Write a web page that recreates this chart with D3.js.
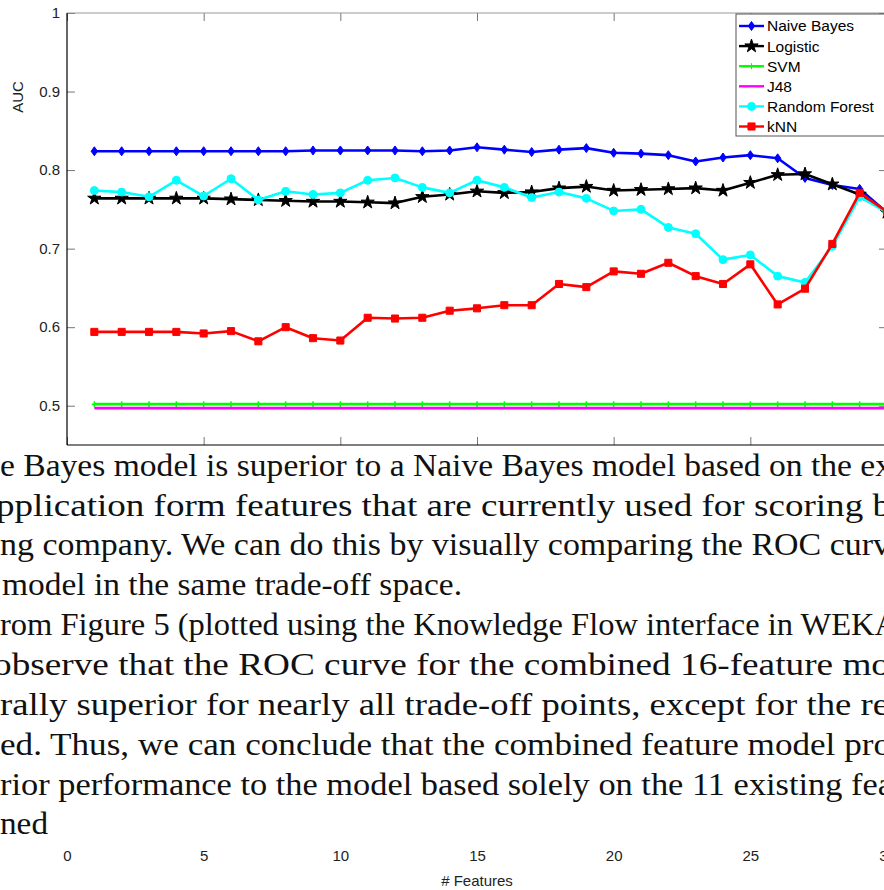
<!DOCTYPE html>
<html>
<head>
<meta charset="utf-8">
<script src="https://cdn.jsdelivr.net/npm/d3@7"></script>
<style>
  body { margin: 0; background: #fff; }
  svg { display: block; }
</style>
</head>
<body>
<div id="chart"></div>
<script>
// number of features used (x axis)
const features = [1, 2, 3, 4, 5, 6, 7, 8, 9, 10, 11, 12, 13, 14, 15, 16, 17, 18, 19, 20, 21, 22, 23, 24, 25, 26, 27, 28, 29, 30];

// AUC per classifier
const naiveBayes = [0.824, 0.824, 0.824, 0.824, 0.824, 0.824, 0.824, 0.824, 0.825, 0.825, 0.825, 0.825, 0.824, 0.825, 0.829,
                    0.826, 0.823, 0.826, 0.828, 0.822, 0.821, 0.819, 0.811, 0.816, 0.819, 0.815, 0.790, 0.781, 0.776, 0.746];
const logistic   = [0.764, 0.764, 0.764, 0.764, 0.764, 0.763, 0.762, 0.761, 0.760, 0.760, 0.759, 0.758, 0.766, 0.769, 0.773,
                    0.771, 0.772, 0.777, 0.779, 0.774, 0.775, 0.776, 0.777, 0.774, 0.784, 0.794, 0.795, 0.782, 0.769, 0.746];
const svm        = [0.502, 0.502, 0.502, 0.502, 0.502, 0.502, 0.502, 0.502, 0.502, 0.502, 0.502, 0.502, 0.502, 0.502, 0.502,
                    0.502, 0.502, 0.502, 0.502, 0.502, 0.502, 0.502, 0.502, 0.502, 0.502, 0.502, 0.502, 0.502, 0.502, 0.502];
const j48        = [0.497, 0.497, 0.497, 0.497, 0.497, 0.497, 0.497, 0.497, 0.497, 0.497, 0.497, 0.497, 0.497, 0.497, 0.497,
                    0.497, 0.497, 0.497, 0.497, 0.497, 0.497, 0.497, 0.497, 0.497, 0.497, 0.497, 0.497, 0.497, 0.497, 0.497];
const randomForest = [0.774, 0.772, 0.766, 0.787, 0.767, 0.789, 0.762, 0.773, 0.769, 0.771, 0.787, 0.790, 0.778, 0.771, 0.787,
                      0.778, 0.765, 0.772, 0.764, 0.748, 0.750, 0.727, 0.719, 0.686, 0.692, 0.665, 0.657, 0.703, 0.766, 0.746];
const knn        = [0.594, 0.594, 0.594, 0.594, 0.592, 0.595, 0.582, 0.600, 0.586, 0.583, 0.612, 0.611, 0.612, 0.621, 0.624,
                    0.628, 0.628, 0.655, 0.651, 0.671, 0.668, 0.682, 0.665, 0.655, 0.680, 0.629, 0.649, 0.706, 0.771, 0.747];

const seriesNames = ['Naive Bayes', 'Logistic', 'SVM', 'J48', 'Random Forest', 'kNN'];
const xTicks = [0, 5, 10, 15, 20, 25, 30];
const yTicks = [0.5, 0.6, 0.7, 0.8, 0.9, 1];
const xLabel = '# Features';
const yLabel = 'AUC';

// page text that sits over the lower part of the figure
const bodyLines = [
  'e Bayes model is superior to a Naive Bayes model based on the ex',
  'pplication form features that are currently used for scoring b',
  'ng company. We can do this by visually comparing the ROC curv',
  'model in the same trade-off space.',
  'rom Figure 5 (plotted using the Knowledge Flow interface in WEKA',
  'observe that the ROC curve for the combined 16-feature mo',
  'rally superior for nearly all trade-off points, except for the re',
  'ed. Thus, we can conclude that the combined feature model pro',
  'rior performance to the model based solely on the 11 existing fea',
  'ned'
];

const width = 884, height = 890;
const plot = {left: 67, right: 887, top: 13, bottom: 445};

const svg = d3.select('#chart').append('svg')
  .attr('width', width)
  .attr('height', height)
  .style('font-family', '"Liberation Sans", Arial, sans-serif');

const x = d3.scaleLinear().domain([0, 30]).range([plot.left, plot.right]);
const y = d3.scaleLinear().domain([0.45, 1]).range([plot.bottom, plot.top]);

const series = [
  {name: seriesNames[0], values: naiveBayes,   color: '#0000ff', marker: 'diamond'},
  {name: seriesNames[1], values: logistic,     color: '#000000', marker: 'star'},
  {name: seriesNames[2], values: svm,          color: '#00ff00', marker: 'plus'},
  {name: seriesNames[3], values: j48,          color: '#ff00ff', marker: 'none'},
  {name: seriesNames[4], values: randomForest, color: '#00ffff', marker: 'circle'},
  {name: seriesNames[5], values: knn,          color: '#ff0000', marker: 'square'}
];

function markerPath(kind) {
  if (kind === 'diamond') return 'M0,-4.5L3.2,0L0,4.5L-3.2,0Z';
  if (kind === 'star') return d3.symbol(d3.symbolStar, 55)();
  if (kind === 'circle') return d3.symbol(d3.symbolCircle, 50)();
  if (kind === 'square') return d3.symbol(d3.symbolSquare, 50)();
  if (kind === 'plus') return 'M-2.5,0H2.5M0,-3V3';
  return null;
}

// plot frame
svg.append('rect')
  .attr('x', plot.left).attr('y', plot.top)
  .attr('width', plot.right - plot.left).attr('height', plot.bottom - plot.top)
  .attr('fill', '#fff');

// inward ticks on all four sides
const tickColor = '#777';
const axB = svg.append('g').attr('transform', `translate(0,${plot.bottom})`)
  .call(d3.axisBottom(x).tickValues(xTicks).tickSize(-8).tickFormat(''));
const axT = svg.append('g').attr('transform', `translate(0,${plot.top})`)
  .call(d3.axisTop(x).tickValues(xTicks).tickSize(-8).tickFormat(''));
const axL = svg.append('g').attr('transform', `translate(${plot.left},0)`)
  .call(d3.axisLeft(y).tickValues(yTicks).tickSize(-8).tickFormat(''));
const axR = svg.append('g').attr('transform', `translate(${plot.right},0)`)
  .call(d3.axisRight(y).tickValues(yTicks).tickSize(-8).tickFormat(''));
[axB, axT, axL, axR].forEach(g => {
  g.select('.domain').remove();
  g.selectAll('.tick line').attr('stroke', tickColor);
});

// frame lines
svg.append('line').attr('x1', plot.left).attr('x2', plot.right).attr('y1', plot.top).attr('y2', plot.top)
  .attr('stroke', '#999').attr('stroke-width', 1.2);
svg.append('line').attr('x1', plot.left).attr('x2', plot.right).attr('y1', plot.bottom).attr('y2', plot.bottom)
  .attr('stroke', '#000').attr('stroke-width', 1.2);
svg.append('line').attr('x1', plot.left).attr('x2', plot.left).attr('y1', plot.top).attr('y2', plot.bottom)
  .attr('stroke', '#000').attr('stroke-width', 1.2);

// y tick labels
const yLab = svg.append('g').attr('transform', `translate(${plot.left - 5},0)`)
  .call(d3.axisLeft(y).tickValues(yTicks).tickSize(0).tickPadding(2).tickFormat(d => d === 1 ? '1' : d3.format('.1f')(d)));
yLab.select('.domain').remove();
yLab.selectAll('text').attr('font-size', 15).attr('fill', '#222')
  .style('font-family', '"Liberation Sans", Arial, sans-serif');

svg.append('text')
  .attr('transform', 'translate(23,97) rotate(-90)')
  .attr('text-anchor', 'middle')
  .attr('font-size', 15)
  .attr('fill', '#222')
  .text(yLabel);

// series
const clipId = 'plot-clip';
svg.append('clipPath').attr('id', clipId).append('rect')
  .attr('x', plot.left).attr('y', plot.top - 6)
  .attr('width', plot.right - plot.left + 6).attr('height', plot.bottom - plot.top + 6);

const line = d3.line().x((d, i) => x(features[i])).y(d => y(d));
const gSeries = svg.append('g').attr('clip-path', `url(#${clipId})`);

series.forEach(s => {
  const g = gSeries.append('g');
  g.append('path')
    .attr('d', line(s.values))
    .attr('fill', 'none')
    .attr('stroke', s.color)
    .attr('stroke-width', 2.6)
    .attr('stroke-linejoin', 'round');
  const mp = markerPath(s.marker);
  if (mp) {
    g.selectAll('path.m')
      .data(s.values)
      .enter().append('path')
      .attr('class', 'm')
      .attr('d', mp)
      .attr('transform', (d, i) => `translate(${x(features[i])},${y(d)})`)
      .attr('fill', s.marker === 'plus' ? 'none' : s.color)
      .attr('stroke', s.color)
      .attr('stroke-width', s.marker === 'plus' ? 1.5 : 1);
  }
});

// legend
const legend = svg.append('g');
legend.append('rect')
  .attr('x', 736).attr('y', 14)
  .attr('width', 170).attr('height', 122)
  .attr('fill', '#fff').attr('stroke', '#555').attr('stroke-width', 1);
series.forEach((s, i) => {
  const ly = 26 + i * 20.1;
  const row = legend.append('g').attr('transform', `translate(0,${ly})`);
  row.append('line').attr('x1', 739).attr('x2', 764).attr('y1', 0).attr('y2', 0)
    .attr('stroke', s.color).attr('stroke-width', 2.4);
  const mp = markerPath(s.marker);
  if (mp) {
    row.append('path').attr('d', mp)
      .attr('transform', 'translate(751.5,0)')
      .attr('fill', s.marker === 'plus' ? 'none' : s.color)
      .attr('stroke', s.color).attr('stroke-width', 1);
  }
  row.append('text')
    .attr('x', 767).attr('y', 0).attr('dy', '0.35em')
    .attr('font-size', 15.5).attr('fill', '#000')
    .text(s.name);
});

// overlapping page text
const bodyLayout = [
  {x: 0,  w: 892, y: 476},
  {x: -4, w: 895, y: 516},
  {x: 0,  w: 890, y: 555},
  {x: 2,  w: 460, y: 595},
  {x: 0,  w: 898, y: 635},
  {x: -7, w: 897, y: 675},
  {x: 0,  w: 889, y: 715},
  {x: 0,  w: 891, y: 755},
  {x: 0,  w: 893, y: 795},
  {x: 0,  w: 48,  y: 834}
];
svg.append('g').selectAll('text')
  .data(bodyLines)
  .enter().append('text')
  .attr('x', (d, i) => bodyLayout[i].x)
  .attr('y', (d, i) => bodyLayout[i].y)
  .attr('textLength', (d, i) => bodyLayout[i].w)
  .attr('lengthAdjust', 'spacingAndGlyphs')
  .attr('font-size', 32)
  .attr('fill', '#111')
  .style('font-family', '"Liberation Serif", "DejaVu Serif", serif')
  .text(d => d);

// x tick labels and title, pushed below the page text
const xLab = svg.append('g').attr('transform', 'translate(0,850)')
  .call(d3.axisBottom(x).tickValues(xTicks).tickSize(0).tickPadding(0).tickFormat(d3.format('d')));
xLab.select('.domain').remove();
xLab.selectAll('text').attr('font-size', 15).attr('fill', '#222')
  .style('font-family', '"Liberation Sans", Arial, sans-serif');

svg.append('text')
  .attr('x', x(15)).attr('y', 886)
  .attr('text-anchor', 'middle')
  .attr('font-size', 15)
  .attr('fill', '#222')
  .text(xLabel);
</script>
</body>
</html>
